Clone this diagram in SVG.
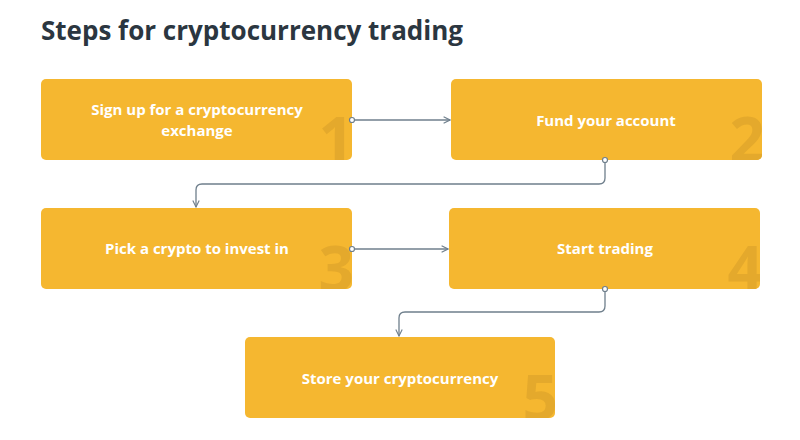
<svg xmlns="http://www.w3.org/2000/svg" width="800" height="440" viewBox="0 0 800 440">
<style>
.box{fill:#f5b730}
.lbl{font-family:"Open Sans","Liberation Sans",sans-serif;font-weight:bold;font-size:15px;fill:#ffffff;text-anchor:middle}
.num{font-family:"Open Sans","Liberation Sans",sans-serif;font-weight:bold;font-size:62px;fill:#e4a92c;text-anchor:end}
.con{fill:none;stroke:#6f7f8c;stroke-width:1.3}
.dot{fill:#ffffff;stroke:#6f7f8c;stroke-width:1.2}
</style>
<defs>
<marker id="arr" viewBox="0 0 10 10" refX="9" refY="5" markerWidth="8" markerHeight="8" orient="auto" markerUnits="userSpaceOnUse">
<path d="M1,1 L9,5 L1,9" fill="none" stroke="#6f7f8c" stroke-width="1.4"/>
</marker>
<clipPath id="c1"><rect x="41" y="79" width="311" height="81" rx="5"/></clipPath>
<clipPath id="c2"><rect x="451" y="79" width="311" height="81" rx="5"/></clipPath>
<clipPath id="c3"><rect x="41" y="208" width="311" height="81" rx="5"/></clipPath>
<clipPath id="c4"><rect x="449" y="208" width="311" height="81" rx="5"/></clipPath>
<clipPath id="c5"><rect x="245" y="337" width="310" height="81" rx="5"/></clipPath>
</defs>
<rect width="800" height="440" fill="#ffffff"/>
<text x="41" y="40" font-family="'Open Sans','Liberation Sans',sans-serif" font-weight="bold" font-size="26" fill="#2b3640">Steps for cryptocurrency trading</text>

<g id="node1">
<rect class="box" x="41" y="79" width="311" height="81" rx="5"/>
<text class="num" x="354" y="162" clip-path="url(#c1)">1</text>
<text class="lbl" x="197" y="115">Sign up for a cryptocurrency</text>
<text class="lbl" x="197" y="136">exchange</text>
</g>
<g id="node2">
<rect class="box" x="451" y="79" width="311" height="81" rx="5"/>
<text class="num" x="765" y="162" clip-path="url(#c2)">2</text>
<text class="lbl" x="606" y="126">Fund your account</text>
</g>
<g id="node3">
<rect class="box" x="41" y="208" width="311" height="81" rx="5"/>
<text class="num" x="354" y="291" clip-path="url(#c3)">3</text>
<text class="lbl" x="197" y="254">Pick a crypto to invest in</text>
</g>
<g id="node4">
<rect class="box" x="449" y="208" width="311" height="81" rx="5"/>
<text class="num" x="763" y="291" clip-path="url(#c4)">4</text>
<text class="lbl" x="605" y="254">Start trading</text>
</g>
<g id="node5">
<rect class="box" x="245" y="337" width="310" height="81" rx="5"/>
<text class="num" x="558" y="420" clip-path="url(#c5)">5</text>
<text class="lbl" x="400" y="384">Store your cryptocurrency</text>
</g>

<g id="connectors">
<path class="con" d="M352,120 L450,120" marker-end="url(#arr)"/>
<circle class="dot" cx="352" cy="120" r="2.5"/>
<path class="con" d="M605,160 L605,178 Q605,184 599,184 L202,184 Q196,184 196,190 L196,207" marker-end="url(#arr)"/>
<circle class="dot" cx="605" cy="160" r="2.5"/>
<path class="con" d="M352,249 L448,249" marker-end="url(#arr)"/>
<circle class="dot" cx="352" cy="249" r="2.5"/>
<path class="con" d="M605,289 L605,306 Q605,312 599,312 L405,312 Q399,312 399,318 L399,336" marker-end="url(#arr)"/>
<circle class="dot" cx="605" cy="289" r="2.5"/>
</g>
</svg>
